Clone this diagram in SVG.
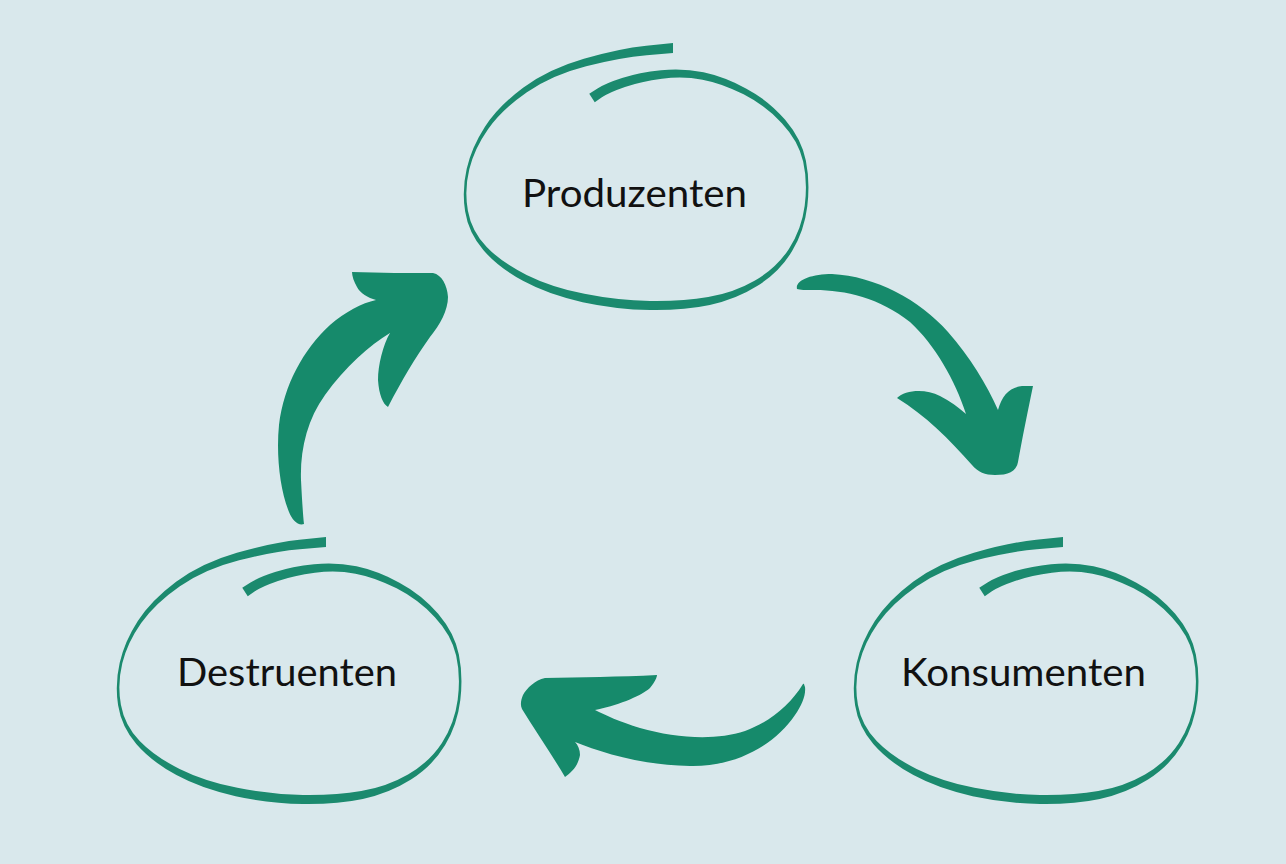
<svg xmlns="http://www.w3.org/2000/svg" xmlns:xlink="http://www.w3.org/1999/xlink" width="1286" height="864" viewBox="0 0 1286 864">
<style>
.loop{fill:#1b8a6e}
.arrow{fill:#168a6b}
.label{font-family:Lato,"Open Sans","Liberation Sans",sans-serif;font-size:39px;fill:#111;text-anchor:middle}
</style>
<defs>
<path id="loop" class="loop" d="M673,43 L646.3,45.75 Q619.55,48.5 583.9,58.75 Q548.25,69 523.1,87.75 Q498,106.5 484.8,127 Q471.6,147.5 466.7,168.75 Q461.8,190 465.1,211.35 Q468.4,232.7 483.3,250.05 Q498.2,267.4 523.4,281.1 Q548.6,294.8 582.6,302.15 Q616.55,309.5 650,310 Q683.45,310.5 709.8,304.9 Q736.2,299.3 758,285.5 Q779.75,271.75 792.1,251.1 Q804.4,230.5 807.3,206.25 Q810.2,182 805.85,160.55 Q801.5,139.1 785.15,119.85 Q768.8,100.6 746.4,88.65 Q724,76.7 703.5,72.35 Q683,68 661.05,70.25 Q639.1,72.5 622.05,78 Q605,83.5 597.1,88.7 L589.25,93.85 L594.75,102.15 L601.9,97.3 Q609,92.5 624.95,87 Q640.9,81.5 661.95,78.75 Q683,76 702.5,79.65 Q722,83.3 743.6,94.35 Q765.2,105.4 781.85,123.15 Q798.5,140.9 803.15,161.45 Q807.8,182 804.7,205.75 Q801.6,229.5 788.9,248.9 Q776.25,268.25 755,280.5 Q733.8,292.7 708.2,297.1 Q682.55,301.5 650,301 Q617.45,300.5 584.4,293.85 Q551.4,287.2 526.6,274.9 Q501.8,262.6 486.7,246.95 Q471.6,231.3 467.9,210.65 Q464.2,190 469.3,169.25 Q474.4,148.5 488.2,129 Q502,109.5 526.9,92.25 Q551.75,75 586.1,66.25 Q620.45,57.5 646.7,55.25 L673,53 Z"/>
</defs>
<rect width="1286" height="864" fill="#d9e8ec"/>
<g id="node-produzenten">
<use xlink:href="#loop"/>
<text class="label" x="634.5" y="207" textLength="225" lengthAdjust="spacingAndGlyphs">Produzenten</text>
</g>
<g id="node-konsumenten">
<use xlink:href="#loop" transform="translate(390,494)"/>
<text class="label" x="1023.5" y="686" textLength="245" lengthAdjust="spacingAndGlyphs">Konsumenten</text>
</g>
<g id="node-destruenten">
<use xlink:href="#loop" transform="translate(-347,494)"/>
<text class="label" x="287" y="686" textLength="220" lengthAdjust="spacingAndGlyphs">Destruenten</text>
</g>
<g id="connectors">
<path class="arrow" d="M797,289 C795,280 812,274 832,274 C875,276 920,300 948,332 C970,357 987,385 998,410 C1002,395 1010,387 1022,386 L1033,386 C1028,410 1022,440 1018,462 C1016,472 1008,475 995,475 C985,475 978,472 972,465 C950,440 925,415 897,398 C905,390 925,388 940,396 C950,401 958,407 966,414 C955,380 935,345 910,322 C880,298 845,290 815,290 C805,290 800,290 797,289 Z"/>
<path class="arrow" d="M803,684 C790,705 770,722 745,731 C715,741 675,738 640,728 C620,722 605,715 595,710 C615,706 640,697 650,688 C655,682 657,677 657,675 C620,677 580,677 545,678 C535,680 527,688 523,695 C521,700 520,705 522,709 C535,730 552,755 565,777 C572,772 578,766 580,755 C580,750 578,745 575,742 C600,752 640,765 690,766 C735,767 775,745 795,715 C802,705 806,695 805,687 C804,684 804,683 803,684 Z"/>
<path class="arrow" d="M304,524 C298,526 292,520 289,512 C280,490 276,455 279,425 C284,385 303,350 330,325 C345,312 362,303 376,300 C368,298 360,293 357,287 C354,282 352,276 352,272 C380,273 410,273 433,273 C442,275 447,285 448,297 C448,310 440,325 430,337 C415,358 402,380 388,407 C383,404 379,395 378,380 C378,365 383,345 390,333 C370,345 345,367 325,395 C307,420 300,450 301,480 C302,500 303,515 304,524 Z"/>
</g>
</svg>
